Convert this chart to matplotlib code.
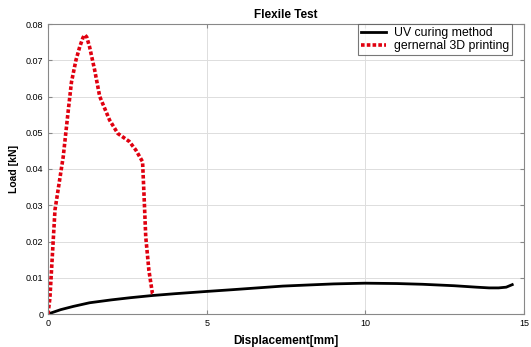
import numpy as np
import matplotlib.pyplot as plt

# ========== data ==========
uv_disp = [0.0, 0.4, 0.8, 1.31, 2.0, 2.6, 3.29, 4.0, 4.96, 5.8, 6.6, 7.4, 8.19, 9.0, 9.99,
           11.0, 11.8, 12.8, 13.5, 13.9, 14.2, 14.44, 14.63]
uv_load = [0.0, 0.0012, 0.0021, 0.0031, 0.0039, 0.0045, 0.0051, 0.0056, 0.0062, 0.0067,
           0.0072, 0.0077, 0.0080, 0.0083, 0.0085, 0.0084, 0.0082, 0.0078, 0.0074,
           0.0072, 0.0072, 0.0074, 0.0081]

gen_disp = [0.0, 0.06, 0.22, 0.48, 0.64, 0.74, 0.88, 1.0, 1.1, 1.16, 1.22, 1.31, 1.47, 1.63,
            1.94, 2.2, 2.56, 2.77, 2.98, 3.03, 3.08, 3.18, 3.29, 3.34]
gen_load = [0.0, 0.0044, 0.0287, 0.0434, 0.0563, 0.064, 0.070, 0.0737, 0.0762, 0.077,
            0.0764, 0.0737, 0.0673, 0.060, 0.0535, 0.0498, 0.0476, 0.0452, 0.042,
            0.032, 0.0213, 0.012, 0.0057, 0.0052]

plt.rcParams['font.family'] = ['Liberation Sans', 'DejaVu Sans']

fig = plt.figure(figsize=(5.31, 3.47), dpi=100)
# axes box: left ~48px, right ~524px, top ~24px, bottom ~314px
ax = fig.add_axes([48 / 531, 1 - 314 / 347, 476 / 531, 290 / 347])

ax.plot(uv_disp, uv_load, color='black', lw=2.0, label='UV curing method')
ax.plot(gen_disp, gen_load, color='#e0000f', lw=2.6, ls=(0, (1, 0.6)),
        label='gernernal 3D printing')

ax.set_xlim(0, 15)
ax.set_ylim(0, 0.08)
ax.set_xticks([0, 5, 10, 15])
ax.set_xticklabels(['0', '5', '10', '15'])
yt = np.arange(0, 0.081, 0.01)
ax.set_yticks(yt)
ax.set_yticklabels(['0'] + [f'{v:.2f}' for v in yt[1:]])
ax.tick_params(direction='in', labelsize=6.5, length=3, color='#888888',
               top=True, right=True)
ax.grid(True, color='#dddddd', lw=0.7)
for s in ax.spines.values():
    s.set_color('#888888')
    s.set_linewidth(0.8)

ax.set_title('Flexile Test', fontsize=8.5, fontweight='bold', pad=4)
ax.set_xlabel('Displacement[mm]', fontsize=8.5, fontweight='bold', labelpad=5)
ax.set_ylabel('Load [kN]', fontsize=7.5, fontweight='bold', labelpad=5)

leg = ax.legend(loc='upper right', fontsize=8.8, frameon=True, fancybox=False,
                edgecolor='#555555', borderaxespad=0.0, handlelength=2.1,
                handletextpad=0.6, labelspacing=0.1, borderpad=0.25,
                bbox_to_anchor=(0.975, 1.0))
leg.get_frame().set_linewidth(0.8)

fig.savefig('out.png', dpi=100)
